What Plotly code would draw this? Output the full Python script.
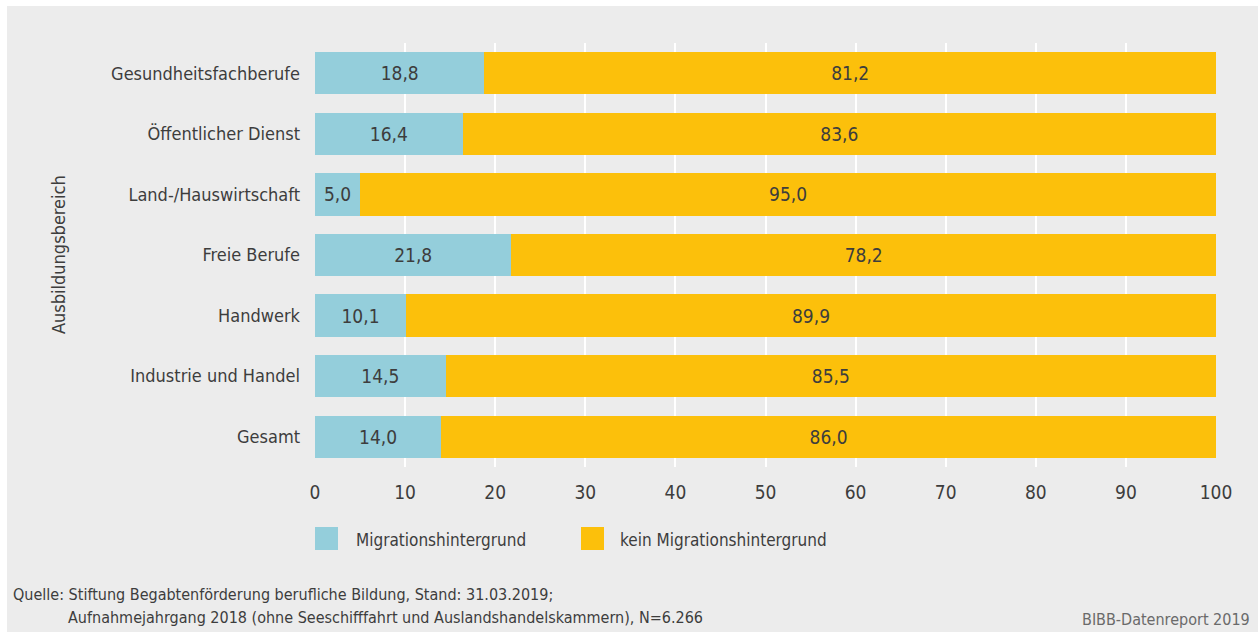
import plotly.graph_objects as go

# Daten (Anteile in %)
categories = ["Gesundheitsfachberufe", "Öffentlicher Dienst", "Land-/Hauswirtschaft",
              "Freie Berufe", "Handwerk", "Industrie und Handel", "Gesamt"]
mit_migration = [18.8, 16.4, 5.0, 21.8, 10.1, 14.5, 14.0]
ohne_migration = [81.2, 83.6, 95.0, 78.2, 89.9, 85.5, 86.0]
series_names = ["Migrationshintergrund", "kein Migrationshintergrund"]
x_ticks = [0, 10, 20, 30, 40, 50, 60, 70, 80, 90, 100]

FONT = "Liberation Sans Narrow, DejaVu Sans Condensed, Arial Narrow, sans-serif"
TXT = "#3d3d3d"
C_TEAL = "#94cedb"
C_GOLD = "#fcc00b"

W, H = 1259, 635
L, R, T, B = 315, 43, 43, 168
pw, ph = W - L - R, H - T - B


def px_x(p):  # pixel -> paper x
    return (p - L) / pw


def px_y(p):  # pixel -> paper y
    return (H - B - p) / ph


def fmt(v):
    return f"{v:.1f}".replace(".", ",")


fig = go.Figure()
for name, vals, col in [(series_names[0], mit_migration, C_TEAL),
                        (series_names[1], ohne_migration, C_GOLD)]:
    fig.add_trace(go.Bar(
        y=categories, x=vals, name=name, orientation="h",
        marker=dict(color=col, line=dict(width=0)),
        text=[fmt(v) for v in vals], textposition="inside",
        insidetextanchor="middle", textangle=0,
        textfont=dict(family=FONT, size=19, color=TXT),
        showlegend=False, width=0.7, hoverinfo="skip"))

shapes = [
    # grauer Hintergrund-Kasten
    dict(type="rect", xref="paper", yref="paper", layer="below",
         x0=px_x(7), x1=px_x(1258), y0=px_y(632), y1=px_y(6),
         fillcolor="#ececec", line=dict(width=0)),
]
annotations = []
# manuelle Legende
for name, col, sx, tx in [(series_names[0], C_TEAL, 315, 354),
                          (series_names[1], C_GOLD, 581, 618)]:
    shapes.append(dict(type="rect", xref="paper", yref="paper",
                       x0=px_x(sx), x1=px_x(sx + 23), y0=px_y(550), y1=px_y(527),
                       fillcolor=col, line=dict(width=0)))
    annotations.append(dict(text=name, xref="paper", yref="paper",
                            x=px_x(tx), y=px_y(540), xanchor="left", yanchor="middle",
                            showarrow=False, font=dict(family=FONT, size=17, color=TXT)))

annotations += [
    dict(text="Ausbildungsbereich", xref="paper", yref="paper",
         x=px_x(58), y=px_y(255), textangle=-90, xanchor="center", yanchor="middle",
         showarrow=False, font=dict(family=FONT, size=18, color=TXT)),
    dict(text="Quelle: Stiftung Begabtenförderung berufliche Bildung, Stand: 31.03.2019;",
         xref="paper", yref="paper", x=px_x(11), y=px_y(594), xanchor="left",
         yanchor="middle", showarrow=False, font=dict(family=FONT, size=16, color=TXT)),
    dict(text="Aufnahmejahrgang 2018 (ohne Seeschifffahrt und Auslandshandelskammern), N=6.266",
         xref="paper", yref="paper", x=px_x(66), y=px_y(617), xanchor="left",
         yanchor="middle", showarrow=False, font=dict(family=FONT, size=16, color=TXT)),
    dict(text="BIBB-Datenreport 2019", xref="paper", yref="paper",
         x=px_x(1252), y=px_y(619), xanchor="right", yanchor="middle",
         showarrow=False, font=dict(family=FONT, size=16, color="#6a6a6a")),
]

fig.update_layout(
    width=W, height=H, barmode="stack", bargap=0.3,
    margin=dict(l=L, r=R, t=T, b=B, pad=0),
    paper_bgcolor="white", plot_bgcolor="#dadada",
    font=dict(family=FONT, size=18, color=TXT),
    uniformtext=dict(minsize=10, mode="show"),
    shapes=shapes, annotations=annotations,
)
fig.update_xaxes(range=[0, 100], tickvals=x_ticks, showgrid=True, gridcolor="white",
                 gridwidth=2, zeroline=False, showline=False, ticks="",
                 ticklabelstandoff=12, fixedrange=True,
                 tickfont=dict(family=FONT, size=19, color=TXT))
fig.update_yaxes(autorange="reversed", showgrid=False, ticks="", showline=False,
                 ticklabelstandoff=14, fixedrange=True,
                 tickfont=dict(family=FONT, size=18, color=TXT))

# Seitenrand des Browsers entfernen, damit die Grafik bei (0,0) beginnt
fig.write_html("out.html", config={"displayModeBar": False},
               post_script="document.body.style.margin='0px';")
